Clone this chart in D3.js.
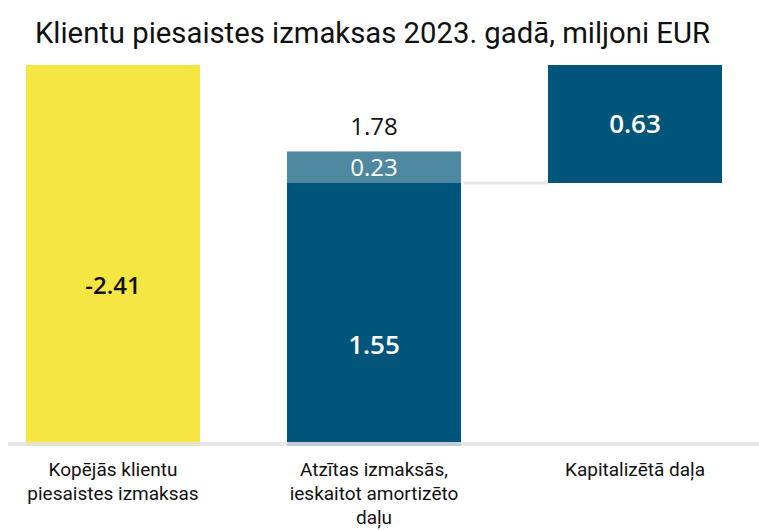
<html>
<meta charset="utf-8">
<head>
<script src="https://d3js.org/d3.v7.min.js"></script>
<style>
  html, body {
    margin:0;
    padding:0;
    background:#ffffff;
  }
  svg {display:block;}
</style>
</head>
<body>
<svg class="svg"></svg>
<script>

// categories, each one split in lines as in the picture
const categories = ["Kopējās klientu piesaistes izmaksas", "Atzītas izmaksās, ieskaitot amortizēto daļu", "Kapitalizētā daļa"]
const categoryLines = [
  ["Kopējās klientu", "piesaistes izmaksas"],
  ["Atzītas izmaksās,", "ieskaitot amortizēto", "daļu"]
  , ["Kapitalizētā daļa"]
]

// bar segments (waterfall)
const segCategory = [0, 1, 1, 2]
const segKind = ["total", "expensed", "amortized", "capitalized"]
const segLow = [0, 0, 1.55, 1.55]
const segHigh = [2.41, 1.55, 1.78, 2.41]
const segLabel = ["-2.41", "1.55", "0.23", "0.63"]

// total above the second bar
const totalValue = 1.78
const totalLabel = "1.78"

const title = "Klientu piesaistes izmaksas 2023. gadā, miljoni EUR"

const W = 759, H = 530

const colors = {total:"#f6e644", expensed:"#02557a", amortized:"#4e88a1", capitalized:"#02557a"}
const labelColors = {total:"#111111", expensed:"#ffffff", amortized:"#ffffff", capitalized:"#ffffff"}
const labelWeights = {total:"600", expensed:"600", amortized:"500", capitalized:"600"}

var svg = d3.select("svg")
  .attr("width", W)
  .attr("height", H)

const xScale = d3.scaleBand()
  .domain(d3.range(categories.length))
  .range([6, 742])
  .paddingInner(1/3)
  .paddingOuter(20/261)

// the picture is not drawn to a single linear scale, so use a piecewise one
const yScale = d3.scaleLinear()
  .domain([0, 1.55, 2.41])
  .range([446, 183, 65])

const segs = segKind.map((k, i) => ({kind:k, cat:segCategory[i], lo:segLow[i], hi:segHigh[i], label:segLabel[i]}))

// title
svg.append("text")
  .attr("x", 35)
  .attr("y", 43)
  .text(title)
  .attr("textLength", 675)
  .attr("lengthAdjust", "spacingAndGlyphs")
  .style("font-family", "Roboto, sans-serif")
  .style("font-size", "30px")
  .style("fill", "#111111")

// bars
svg.append("g")
  .selectAll("rect")
  .data(segs)
  .enter()
  .append("rect")
    .attr("x", d => xScale(d.cat))
    .attr("width", xScale.bandwidth())
    .attr("y", d => yScale(d.hi))
    .attr("height", d => yScale(d.lo) - yScale(d.hi))
    .style("fill", d => colors[d.kind])

// connector between bar 2 and bar 3
svg.append("line")
  .attr("x1", xScale(1) + xScale.bandwidth() + 3)
  .attr("x2", xScale(2))
  .attr("y1", yScale(1.55))
  .attr("y2", yScale(1.55))
  .attr("stroke", "#e6e6e6")
  .attr("stroke-width", 3)

// baseline
svg.append("line")
  .attr("x1", 8)
  .attr("x2", W)
  .attr("y1", yScale(0) - 2)
  .attr("y2", yScale(0) - 2)
  .attr("stroke", "#e3e3e3")
  .attr("stroke-width", 4)
  .style("opacity", 0.85)

// value labels
svg.append("g")
  .selectAll("text")
  .data(segs)
  .enter()
  .append("text")
    .attr("x", d => xScale(d.cat) + xScale.bandwidth()/2)
    .attr("y", d => {
      const mid = (yScale(d.lo) + yScale(d.hi))/2
      const h = yScale(d.lo) - yScale(d.hi)
      return mid + (h > 200 ? 30 : 0)
    })
    .attr("dy", "0.36em")
    .attr("text-anchor", "middle")
    .text(d => d.label)
    .style("font-family", "'Open Sans', sans-serif")
    .style("font-weight", d => labelWeights[d.kind])
    .style("font-size", d => d.kind == "amortized" || d.kind == "total" ? "24px" : "26px")
    .style("fill", d => labelColors[d.kind])

svg.append("text")
  .attr("x", xScale(1) + xScale.bandwidth()/2)
  .attr("y", yScale(totalValue) - 25)
  .attr("dy", "0.36em")
  .attr("text-anchor", "middle")
  .text(totalLabel)
  .style("font-family", "'Open Sans', sans-serif")
  .style("font-weight", "500")
  .style("font-size", "24px")
  .style("fill", "#111111")

// category labels
svg.append("g")
  .selectAll("text")
  .data(categoryLines)
  .enter()
  .append("text")
    .attr("x", (d, i) => xScale(i) + xScale.bandwidth()/2)
    .attr("y", 476)
    .attr("text-anchor", "middle")
    .style("font-family", "Roboto, sans-serif")
    .style("font-size", "19px")
    .style("fill", "#111111")
    .selectAll("tspan")
    .data(d => d)
    .enter()
    .append("tspan")
      .attr("x", function() { return d3.select(this.parentNode).attr("x") })
      .attr("dy", (d, i) => i == 0 ? 0 : 24)
      .text(d => d)

</script>
</body>
</html>
